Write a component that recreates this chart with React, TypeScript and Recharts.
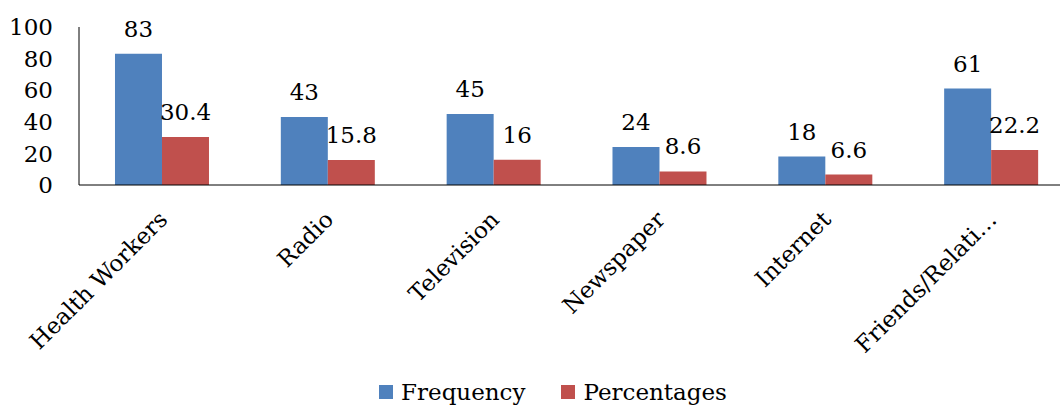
import React from 'react';
import { BarChart, Bar, XAxis, YAxis, Legend, LabelList } from 'recharts';

const sources = ['Health Workers', 'Radio', 'Television', 'Newspaper', 'Internet', 'Friends/Relati…'];
const frequency = [83, 43, 45, 24, 18, 61];
const percentages = [30.4, 15.8, 16, 8.6, 6.6, 22.2];
const yTicks = [0, 20, 40, 60, 80, 100];

const FONT = '"DejaVu Serif", serif';
const BLUE = '#4F81BD';
const RED = '#C0504D';

const data = sources.map((name, i) => ({
  name,
  Frequency: frequency[i],
  Percentages: percentages[i],
}));

const RotatedTick = (props: any) => {
  const { x, y, payload } = props;
  return (
    <text
      x={x + 7}
      y={y + 36}
      transform={`rotate(-45, ${x + 7}, ${y + 36})`}
      textAnchor="end"
      fontFamily={FONT}
      fontSize={23}
      fill="#000"
    >
      {payload.value}
    </text>
  );
};

const LegendContent = () => (
  <div style={{ display: 'flex', justifyContent: 'center', paddingLeft: 32, paddingTop: 4, fontFamily: FONT, fontSize: 23, color: '#000' }}>
    {[['Frequency', BLUE], ['Percentages', RED]].map(([label, color], i) => (
      <div key={label} style={{ display: 'flex', alignItems: 'center', marginLeft: i ? 36 : 0 }}>
        <span style={{ width: 14, height: 14, background: color, display: 'inline-block', marginRight: 8 }} />
        <span>{label}</span>
      </div>
    ))}
  </div>
);

const App = () => {
  return (
    <div style={{ position: 'absolute', left: 0, top: 0, width: 1060, height: 405, overflow: 'hidden', background: '#fff' }}>
      <BarChart
        width={1074}
        height={405}
        data={data}
        margin={{ top: 27, right: 0, bottom: 0, left: 0 }}
        barCategoryGap="21.7%"
        barGap={0}
      >
        <XAxis
          dataKey="name"
          interval={0}
          tickLine={false}
          tickSize={0}
          tickMargin={0}
          height={190}
          stroke="#000"
          tick={<RotatedTick />}
        />
        <YAxis
          domain={[0, 100]}
          ticks={yTicks}
          width={79}
          tickLine={false}
          tickSize={0}
          tickMargin={26}
          stroke="#000"
          tick={{ fill: '#000', fontFamily: FONT, fontSize: 23 }}
        />
        <Legend verticalAlign="bottom" height={30} content={<LegendContent />} />
        <Bar dataKey="Frequency" fill={BLUE} isAnimationActive={false}>
          <LabelList dataKey="Frequency" position="top" offset={17} fill="#000" fontFamily={FONT} fontSize={23} />
        </Bar>
        <Bar dataKey="Percentages" fill={RED} isAnimationActive={false}>
          <LabelList dataKey="Percentages" position="top" offset={17} fill="#000" fontFamily={FONT} fontSize={23} />
        </Bar>
      </BarChart>
    </div>
  );
};

export default App;
